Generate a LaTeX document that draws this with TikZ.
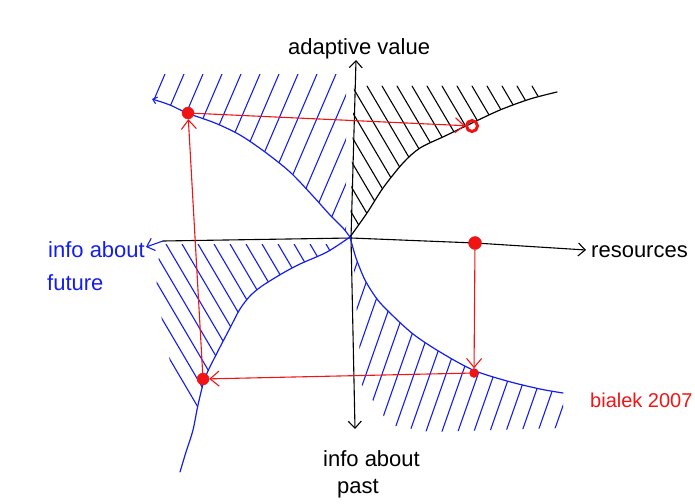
\documentclass[tikz,border=0pt]{standalone}
\usepackage{fontspec}
\setmainfont{Liberation Sans}
\usetikzlibrary{arrows.meta}
\definecolor{penblue}{RGB}{20,30,235}
\definecolor{penred}{RGB}{240,20,20}
\begin{document}
\begin{tikzpicture}[x=1pt,y=-1pt,
  curve/.style={line width=1.2pt,line cap=round,line join=round},
  hatchline/.style={line width=1.1pt,line cap=round},
  axisline/.style={line width=1.1pt,black,line cap=round},
  barb/.style={-{Straight Barb[length=7pt,width=13pt,line width=1.1pt]}},
  smallbarb/.style={-{Straight Barb[length=4pt,width=7pt,line width=1.1pt]}},
  redarrow/.style={penred,line width=1.1pt,-{Straight Barb[length=9pt,width=15pt,line width=1.1pt]}},
  reddot/.style={circle,fill=penred,draw=penred,inner sep=0pt,minimum size=#1},
  redring/.style={circle,draw=penred,line width=3pt,inner sep=0pt,minimum size=11pt},
  lbl/.style={inner sep=0pt,anchor=base west,font=\fontsize{22}{26}\selectfont}
]
\useasboundingbox (0,0) rectangle (695,503);

% ---- hatching ----
\begin{scope}
\clip plot[smooth] coordinates {(350,237) (367,213) (383,188) (403,163) (420,148) (445,136) (470,124) (500,110) (530,99) (557,92)} -- (535,84) -- (354,84) -- cycle;
\foreach \x in {262,277,...,545} \draw[hatchline] (\x,86) -- ++(100,170);
\end{scope}
\begin{scope}
\clip plot[smooth] coordinates {(152,99) (170,105) (187,113) (215,123) (240,135) (265,152) (290,172) (312,195) (330,215) (343,228) (350,237)} -- (346,230) -- (346,74) -- (160,74) -- (152,92) -- cycle;
\foreach \x in {165,184,...,440} \draw[hatchline,penblue] (\x,74) -- ++(-90,210);
\end{scope}
\begin{scope}
\clip (346,244) -- (160,244) -- (156,290) -- (166,340) -- (176,395) -- (193,420) -- plot[smooth] coordinates {(198,405) (205,378) (217,353) (230,328) (240,309) (250,296) (262,286) (283,273) (300,264) (327,252) (348,241)} -- cycle;
\foreach \x in {70,86,...,345} \draw[hatchline,penblue] (\x,244) -- ++(100,170);
\end{scope}
\begin{scope}
\clip plot[smooth] coordinates {(352,242) (356,258) (365,280) (377,299) (390,313) (413,334) (440,352) (473,370) (507,381) (540,389) (563,393)} -- (563,428) -- (430,432) -- (390,425) -- (362,385) -- (356,300) -- cycle;
\foreach \x in {365,381,...,640} \draw[hatchline,penblue] (\x,240) -- ++(-70,200);
\end{scope}

% ---- axes ----
\coordinate (O) at (351,238);
\coordinate (vtop) at (356,60);
\coordinate (vbot) at (355,429);
\coordinate (hleft) at (163,241);
\coordinate (hmid) at (475,243);
\coordinate (hright) at (586,250);
\coordinate (btip) at (146,247);
\draw[axisline,barb] (O) -- (vtop);
\draw[axisline,barb] (O) -- (vbot);
\draw[axisline,barb] (hleft) -- (O) -- (hmid) -- (hright);
\draw[penblue,line width=1.1pt,barb] (hleft) -- (btip);

% ---- curves ----
\draw[curve] plot[smooth] coordinates {(350,237) (367,213) (383,188) (403,163) (420,148) (445,136) (470,124) (500,110) (530,99) (557,92)};
\draw[curve,penblue,smallbarb] plot[smooth] coordinates {(350,237) (343,228) (330,215) (312,195) (290,172) (265,152) (240,135) (215,123) (187,113) (170,105) (152,99)};
\draw[curve,penblue] plot[smooth] coordinates {(350,237) (327,252) (300,264) (283,273) (262,286) (250,296) (240,309) (230,328) (217,353) (205,378) (198,405) (193,430) (186,452) (180,472)};
\draw[curve,penblue] plot[smooth] coordinates {(350,237) (356,258) (365,280) (377,299) (390,313) (413,334) (440,352) (473,370) (507,381) (540,389) (563,393)};

% ---- red cycle ----
\node[reddot=12pt] (A) at (188,113) {};
\node[redring] (B) at (472,126) {};
\node[reddot=13pt] (C) at (475,243) {};
\node[reddot=9pt] (D) at (474,373) {};
\node[reddot=12pt] (E) at (203,379) {};
\draw[redarrow] (A) -- (B);
\draw[redarrow] (C) -- (D);
\draw[redarrow] (D) -- (E);
\draw[redarrow] (E) -- (A);

% ---- labels ----
\node[lbl] (tav) at (288,55) {adaptive value};
\node[lbl] (tres) at (591,257) {resources};
\node[lbl,penblue] (tfut1) at (48,257) {info about};
\node[lbl,penblue] (tfut2) at (47,290) {future};
\node[lbl] (tpast1) at (323,466) {info about};
\node[lbl] (tpast2) at (337,493) {past};
\node[lbl,penred,font=\fontsize{20}{24}\selectfont] (tbia) at (590,407) {bialek 2007};
\end{tikzpicture}
\end{document}
